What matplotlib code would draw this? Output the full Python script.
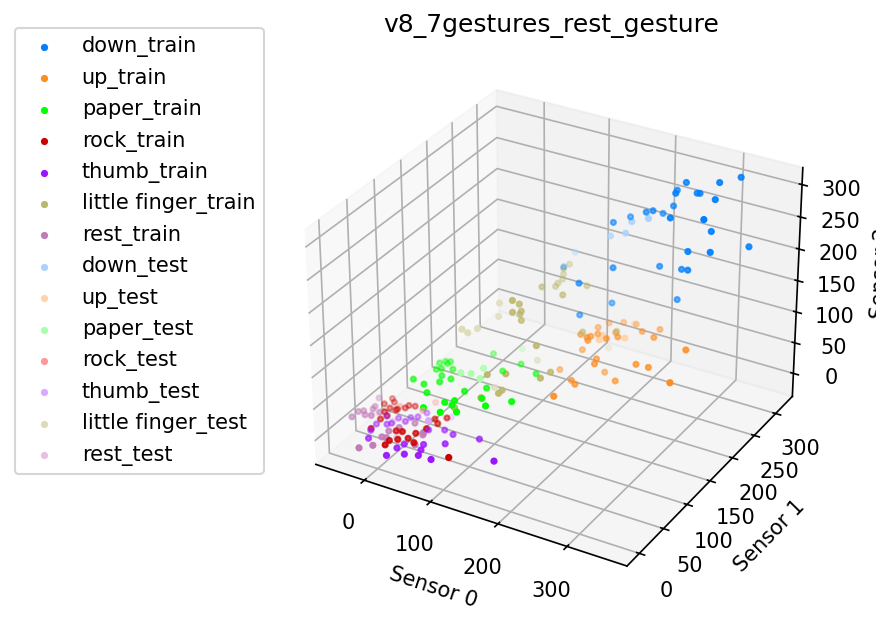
import numpy as np
import matplotlib
matplotlib.use("Agg")
import matplotlib.pyplot as plt

# (sensor 0, sensor 1, sensor 2)
down_train = [(319,305,314),(253,285,300),(301,285,313),(227,305,269),(269,285,288),(270,290,285),(251,265,295),
              (308,265,301),(222,305,243),(195,285,238),(158,305,208),(205,285,243),(200,315,219),(146,285,208),
              (257,245,271),(318,225,298),(310,255,259),(352,275,235),(290,235,235),(322,235,243),(223,275,167),
              (167,255,161),(56,305,98),(262,265,180),(284,245,198),(137,225,147),(152,275,87),(250,275,122),(124,245,79)]
up_train = [(155,265,62),(171,274,62),(148,251,62),(137,229,62),(156,239,62),(151,231,62),(148,227,62),(153,222,62),
            (172,235,62),(183,244,62),(175,251,62),(204,267,62),(188,277,62),(222,280,62),(225,262,62),(139,230,37),
            (277,256,62),(167,221,37),(171,211,37),(219,232,37),(237,233,37),(174,229,12),(197,219,12),(280,217,37),
            (119,210,12),(146,197,12),(155,192,12),(146,160,12)]
paper_train = [(21,203,12),(67,199,12),(55,177,12),(97,190,12),(59,139,12),(38,122,12),(105,129,12),(81,108,12),
               (39,101,12),(30,93,12),(-3,100,12),(-18,113,12),(-37,116,12),(38,74,12),(42,92,12),(56,83,12),
               (13,73,12),(-3,125,12),(6,136,12),(-9,137,12),(-24,145,12),(-19,149,12),(-5,154,12),(-29,158,12),
               (-24,164,12),(-19,161,12),(-18,166,12),(67,119,12)]
rock_train = [(-30,67,17),(-32,54,17),(6,66,17),(-2,64,17),(-3,58,17),(-10,52,17),(-20,50,17),(-21,41,17),(-16,27,17),
              (-14,7,17),(45,55,17),(54,49,17),(48,35,17),(42,22,17),(40,10,17),(25,18,17),(17,16,17),(30,3,17),
              (22,-3,17),(23,-12,17),(52,6,17),(109,0,17),(-23,62,17),(-13,36,17),(-11,50,17),(57,63,17)]
thumb_train = [(28,61,17),(23,50,17),(16,45,17),(3,38,17),(15,36,17),(2,26,17),(-2,22,17),(-14,17,17),(-13,35,17),
               (-12,4,17),(-4,-10,17),(52,34,17),(70,42,17),(85,39,17),(120,45,17),(88,20,17),(65,8,17),(69,-2,17),
               (73,-12,17),(56,-17,17),(38,-28,17),(40,-11,17),(43,-1,17),(92,-12,17),(163,17,17)]
little_train = [(125,250,48),(155,282,37),(65,305,105),(65,292,106),(65,292,97),(65,290,90),(65,280,90),(65,275,88),
                (65,246,106),(105,287,93),(95,249,100),(65,185,124),(65,199,109),(65,185,105),(65,200,92),(65,203,95),
                (65,203,80),(105,180,67),(125,182,29),(125,161,34),(65,133,40),(85,144,40),(85,136,19),(85,129,19),
                (75,107,24),(45,93,8)]
rest_train = [(-46,61,17),(-39,45,17),(-38,40,17),(-46,32,17),(-51,28,17),(-51,16,17),(-39,26,17),(-31,28,17),(-26,38,17),
              (28,38,17),(16,23,17),(50,27,17),(52,23,17),(9,-1,17),(15,0,17),(-2,-30,17),(10,-19,17),(9,12,17),(56,3,17)]
down_test = [(185,305,213),(160,305,201),(151,305,180),(128,305,169),(74,305,127)]
up_test = [(146,334,12),(154,302,12),(125,295,12),(126,285,12)]
paper_test = [(48,227,12),(29,172,12),(22,156,12),(9,152,12),(39,152,12)]
rock_test = [(24,83,17),(20,63,17),(-11,58,17),(22,18,17)]
thumb_test = [(61,67,17),(40,49,17)]
little_test = [(65,159,137),(65,157,117),(65,115,126),(65,96,132),(65,85,145),(105,182,42),(85,121,34),(155,264,22)]
rest_test = [(-26,36,17),(1,30,17),(27,5,17),(-33,31,17)]

names = ["down", "up", "paper", "rock", "thumb", "little finger", "rest"]
colors = ["#007fff", "#ff8c1f", "#00ff00", "#cc0000", "#9a14ff", "#bdb76b", "#c27ab8"]
pale_colors = ["#aad4ff", "#ffd4aa", "#aaffaa", "#ff9999", "#d9aaff", "#dedcb8", "#e5c0e0"]
train_sets = [down_train, up_train, paper_train, rock_train, thumb_train, little_train, rest_train]
test_sets = [down_test, up_test, paper_test, rock_test, thumb_test, little_test, rest_test]

fig = plt.figure(figsize=(876 / 150, 617 / 150), dpi=150)
ax = fig.add_axes([179 / 876, 16 / 617, 744 / 876, 554 / 617], projection="3d")

for name, color, pts in zip(names, colors, train_sets):
    x, y, z = np.array(pts).T
    ax.scatter(x, y, z, s=6, c=color, label=name + "_train")
for name, color, pts in zip(names, pale_colors, test_sets):
    x, y, z = np.array(pts).T
    ax.scatter(x, y, z, s=6, c=color, label=name + "_test")

ax.set_xlim(-75, 385)
ax.set_ylim(-25, 340)
ax.set_zlim(-38, 326)
ax.set_xticks([0, 100, 200, 300])
ax.set_yticks([0, 50, 100, 150, 200, 250, 300])
ax.set_zticks([0, 50, 100, 150, 200, 250, 300])
ax.set_xlabel("Sensor 0")
ax.set_ylabel("Sensor 1")
ax.set_zlabel("Sensor 2")
ax.set_title("v8_7gestures_rest_gesture", pad=7)

fig.legend(loc="upper left", bbox_to_anchor=(15 / 876, 1 - 28 / 617), borderaxespad=0, borderpad=0.4)

fig.savefig("out.png", dpi=150)
